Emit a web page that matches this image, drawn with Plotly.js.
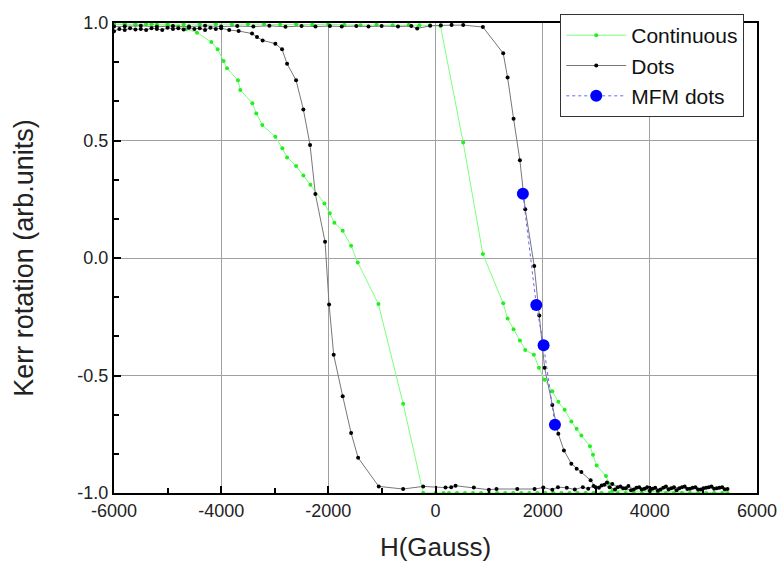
<!DOCTYPE html>
<html><head><meta charset="utf-8">
<script src="https://cdn.plot.ly/plotly-3.0.1.min.js"></script>
<style>html,body{margin:0;padding:0;background:#fff}#c{width:778px;height:563px}</style>
</head><body><div id="c"></div>
<script>
// Continuous film loop (H in Gauss, Kerr rotation arb. units)
const contH = [-6000,-5800,-5600,-5400,-5200,-5000,-4800,-4650,-4451,-4184,-4066,-3954,-3891,-3686,-3643,-3418,-3344,-3232,-2989,-2858,-2770,-2602,-2466,-2335,-2074,-1974,-1887,-1732,-1575,-1451,-1065,-604,-230,
  0,150,250,400,550,700,850,1000,1150,1300,1450,1600,1750,1900,2050,2200,2350,2500,2650,2800,2950,3100,3250,3400,3550,3700,3850,4000,4150,4300,4450,4600,4750,4900,5050,5200,5350,5450,
  3300,3237,3181,3008,2939,2883,2722,2634,2535,2410,2292,2180,2036,1930,1836,1675,1575,1457,1345,1264,884,517,93,
  -100,-300,-500,-800,-1100,-1400,-1700,-2000,-2300,-2600,-2900,-3200,-3500,-3800,-4100,-4400,-4700,-5000,-5300,-5600,-5800,-6000];
const contK = [0.995,0.995,0.993,0.995,0.993,0.99,0.985,0.975,0.959,0.919,0.888,0.838,0.807,0.756,0.715,0.659,0.615,0.566,0.516,0.467,0.428,0.392,0.351,0.312,0.232,0.190,0.150,0.116,0.052,-0.019,-0.196,-0.620,-1.0,
  -1,-1,-1,-1,-1,-1,-1,-1,-1,-1,-1,-1,-1,-1,-1,-1,-1,-1,-1,-1,-1,-1,-1,-1,-1,-1,-1,-1,-1,-1,-1,-1,-1,-1,-1,-1,-1,-1,
  -0.99,-0.960,-0.928,-0.883,-0.837,-0.801,-0.755,-0.727,-0.696,-0.646,-0.612,-0.567,-0.518,-0.467,-0.412,-0.391,-0.351,-0.303,-0.257,-0.193,0.017,0.491,0.987,
  0.99,0.99,0.992,0.99,0.993,0.99,0.992,0.995,0.993,0.995,0.993,0.995,0.995,0.993,0.995,0.995,0.993,0.995,0.995,0.993,0.995,0.995];

// Dots array loop
const dotsH = [-6000,-5900,-5800,-5700,-5600,-5500,-5400,-5300,-5200,-5100,-5000,-4900,-4800,-4700,-4600,-4500,-4400,-4300,-4200,-4100,-4000,-3850,
  -3674,-3424,-3331,-3226,-2989,-2864,-2770,-2602,-2466,-2341,-2242,-2061,-1986,-1900,-1732,-1575,-1444,-1059,-604,-230,
  187,293,374,715,996,1139,1526,1849,2011,2180,2285,2450,2600,2750,2850,2950,3050,3150,3250,3350,3450,3550,3650,3750,3850,3950,4050,4150,4250,4350,4450,4550,4650,4750,4850,4950,5050,5150,5250,5350,5450,
  5400,5300,5200,5100,5000,4900,4800,4700,4600,4500,4400,4300,4200,4100,4000,3900,3800,3700,3600,3500,3400,3300,3200,3100,
  2989,2895,2722,2634,2535,2397,2292,2180,2036,1937,1843,1675,1575,1457,1345,1264,884,517,300,
  100,-100,-342,-451,-700,-1006,-1250,-1478,-1750,-1971,-2240,-2500,-2800,-3100,-3400,-3700,-4000,-4300,-4600,-4900,-5200,-5500,-5800,-6000];
const dotsK = [0.965,0.975,0.97,0.978,0.972,0.975,0.97,0.978,0.975,0.97,0.98,0.975,0.978,0.972,0.98,0.975,0.978,0.97,0.98,0.975,0.978,0.97,
  0.966,0.955,0.940,0.926,0.912,0.888,0.827,0.756,0.632,0.481,0.272,0.069,-0.198,-0.412,-0.588,-0.745,-0.850,-0.972,-0.983,-0.972,
  -0.977,-0.975,-0.969,-0.977,-0.986,-0.983,-0.983,-0.983,-0.977,-0.986,-0.975,-0.978,-0.985,-0.975,-0.982,-0.97,-0.978,-0.965,-0.975,-0.985,-0.972,-0.98,-0.988,-0.978,-0.985,-0.975,-0.982,-0.99,-0.978,-0.985,-0.975,-0.98,-0.972,-0.982,-0.975,-0.985,-0.978,-0.972,-0.98,-0.975,-0.983,
  -0.985,-0.978,-0.982,-0.975,-0.98,-0.985,-0.978,-0.983,-0.975,-0.988,-0.98,-0.972,-0.985,-0.978,-0.99,-0.982,-0.975,-0.985,-0.97,-0.98,-0.975,-0.962,-0.955,-0.968,
  -0.975,-0.946,-0.911,-0.897,-0.875,-0.819,-0.748,-0.625,-0.467,-0.245,-0.034,0.207,0.416,0.593,0.768,0.871,0.983,0.991,0.992,
  0.99,0.988,0.977,0.987,0.985,0.987,0.985,0.987,0.985,0.987,0.985,0.987,0.984,0.988,0.985,0.987,0.985,0.988,0.985,0.987,0.984,0.988,0.986,0.985];

// MFM measured dots
const mfmH = [1631,1881,2017,2229];
const mfmK = [0.273,-0.200,-0.371,-0.710];

const xTickVals = [-6000,-4000,-2000,0,2000,4000,6000];
const xTickText = ['-6000','-4000','-2000','0','2000','4000','6000'];
const yTickVals = [-1,-0.5,0,0.5,1];
const yTickText = ['-1.0','-0.5','0.0','0.5','1.0'];

const F = 'Arial, "Liberation Sans", sans-serif';
const traces = [
  {x: contH, y: contK, name: 'Continuous', mode: 'lines+markers',
   line: {color: '#7dff7d', width: 1}, marker: {color: '#22ee22', size: 4}},
  {x: dotsH, y: dotsK, name: 'Dots', mode: 'lines+markers',
   line: {color: '#777777', width: 1}, marker: {color: '#000000', size: 4}},
  {x: mfmH, y: mfmK, name: 'MFM dots', mode: 'lines+markers',
   line: {color: '#6666ff', width: 1, dash: 'dot'}, marker: {color: '#0000ff', size: 12}}
];
const axBase = {
  showline: true, linecolor: '#000', linewidth: 2, mirror: true,
  ticks: 'inside', ticklen: 7, tickwidth: 2, tickcolor: '#000',
  showgrid: true, gridcolor: '#a0a0a0', gridwidth: 1, zeroline: false,
  tickfont: {family: F, size: 18, color: '#222'}, tickmode: 'array'
};
const layout = {
  width: 778, height: 563,
  margin: {l: 114, r: 21, t: 23, b: 70},
  paper_bgcolor: '#fff', plot_bgcolor: '#fff',
  showlegend: true,
  xaxis: Object.assign({}, axBase, {
    range: [-6000, 6000], tickvals: xTickVals, ticktext: xTickText,
    minor: {tickvals: [-5000,-3000,-1000,1000,3000,5000], ticks: 'inside', ticklen: 5, tickwidth: 2, tickcolor: '#000', showgrid: false},
    title: {text: 'H(Gauss)', font: {family: F, size: 26, color: '#222'}, standoff: 18}
  }),
  yaxis: Object.assign({}, axBase, {
    range: [-1, 1], tickvals: yTickVals, ticktext: yTickText,
    minor: {tickvals: [-5/6,-4/6,-2/6,-1/6,1/6,2/6,4/6,5/6], ticks: 'inside', ticklen: 5, tickwidth: 2, tickcolor: '#000', showgrid: false},
    title: {text: 'Kerr rotation (arb.units)', font: {family: F, size: 27, color: '#222'}, standoff: 36}
  }),
  legend: {x: 0.694, y: 1.019, xanchor: 'left', yanchor: 'top',
    bgcolor: '#fff', bordercolor: '#333', borderwidth: 1,
    font: {family: F, size: 21, color: '#111'}, itemwidth: 60, tracegroupgap: 0,
    entrywidth: 130, entrywidthmode: 'pixels'}
};
Plotly.newPlot('c', traces, layout, {staticPlot: true, displayModeBar: false});
</script></body></html>
